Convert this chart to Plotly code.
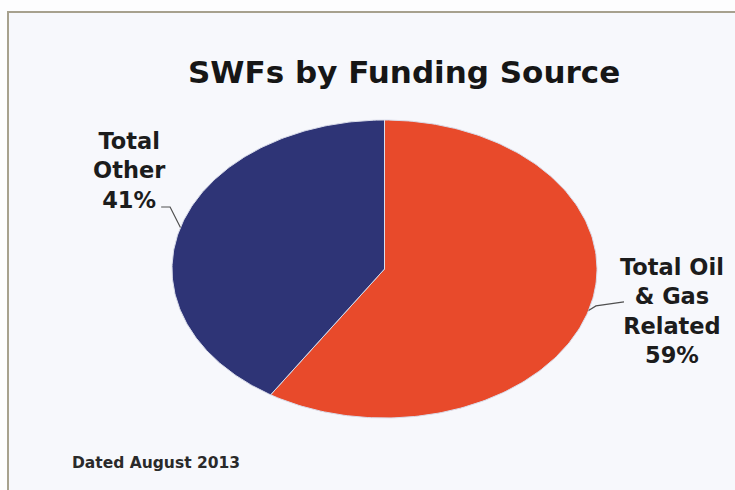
import numpy as np
import plotly.graph_objects as go

# ---- data ----
categories = ["Total Oil<br>& Gas<br>Related", "Total<br>Other"]
shares = [59, 41]
colors = ["#e84a2b", "#2e3476"]
title_text = "SWFs by Funding Source"
footer_text = "Dated August 2013"

# ---- geometry helpers (unit pie drawn on unequal axes -> ellipse) ----
fracs = np.array(shares, dtype=float) / sum(shares)
starts = np.concatenate([[0.0], np.cumsum(fracs)[:-1]])
ends = np.cumsum(fracs)

fig = go.Figure()

# frame behind the chart
fig.add_shape(type="rect", xref="paper", yref="paper",
              x0=8/735, x1=1.02, y0=-0.02, y1=1-12/490,
              line=dict(color="#a7a18e", width=2), fillcolor="#f7f8fc", layer="below")

mids = []
for s, e, c in zip(starts, ends, colors):
    t = np.linspace(s, e, 200) * 2 * np.pi  # clockwise from top
    xs = np.concatenate([[0], np.sin(t), [0]])
    ys = np.concatenate([[0], np.cos(t), [0]])
    fig.add_trace(go.Scatter(x=xs, y=ys, mode="lines", fill="toself",
                             fillcolor=c, line=dict(color="#d9dcea", width=1),
                             hoverinfo="skip", showlegend=False))
    m = (s + e) / 2 * 2 * np.pi
    mids.append((np.sin(m), np.cos(m)))

# leader lines from slice mid-points
(ox, oy), (bx, by) = mids
fig.add_trace(go.Scatter(x=[ox, 0.995, 1.127], y=[oy, -0.248, -0.221], mode="lines",
                         line=dict(color="#505050", width=1.2), hoverinfo="skip", showlegend=False))
fig.add_trace(go.Scatter(x=[bx, -1.009, -1.051], y=[by, 0.416, 0.416], mode="lines",
                         line=dict(color="#505050", width=1.2), hoverinfo="skip", showlegend=False))

lab_font = dict(family="DejaVu Sans", size=22.5, color="#1c1c1c")
fig.add_annotation(x=1.353, y=-0.285, xref="x", yref="y", showarrow=False,
                   text=f"<b>{categories[0]}<br>{shares[0]}%</b>", font=lab_font, align="center")
fig.add_annotation(x=-1.202, y=0.664, xref="x", yref="y", showarrow=False,
                   text=f"<b>{categories[1]}<br>{shares[1]}%</b>", font=lab_font, align="center")

# title and footer
fig.add_annotation(x=404/735, y=1-52/490, xref="paper", yref="paper", showarrow=False,
                   text=f"<b>{title_text}</b>",
                   font=dict(family="DejaVu Sans", size=31, color="#161616"))
fig.add_annotation(x=70/735, y=1-474/490, xref="paper", yref="paper", showarrow=False,
                   xanchor="left", text=f"<b>{footer_text}</b>",
                   font=dict(family="DejaVu Sans", size=15.5, color="#2a2a2a"))

fig.update_layout(
    width=735, height=490,
    margin=dict(l=0, r=0, t=0, b=0),
    paper_bgcolor="#fdfdfe", plot_bgcolor="rgba(0,0,0,0)",
    xaxis=dict(range=[-384.5/212.5, (735-384.5)/212.5], visible=False, fixedrange=True),
    yaxis=dict(range=[-(490-269)/149, 269/149], visible=False, fixedrange=True),
    showlegend=False, hovermode=False,
)

fig.write_html("out.html")
